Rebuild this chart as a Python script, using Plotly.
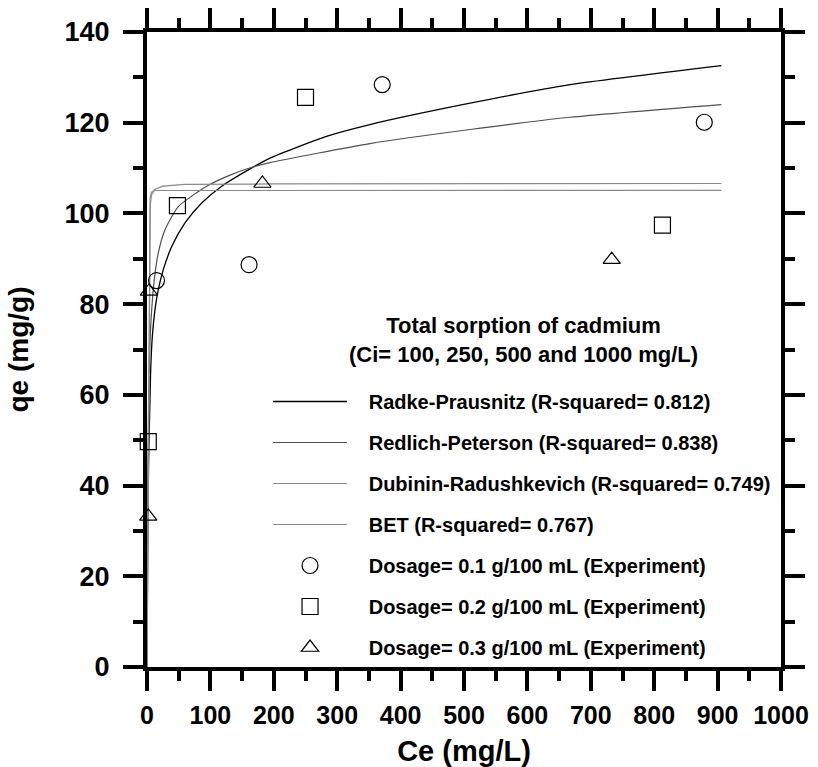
import plotly.graph_objects as go

# ---------------- data ----------------
# Experimental points (Ce mg/L, qe mg/g)
ce_d01 = [15, 161, 371, 879]
qe_d01 = [85.2, 88.7, 128.4, 120.1]
ce_d02 = [2, 48, 250, 813]
qe_d02 = [49.7, 101.7, 125.6, 97.4]
ce_d03 = [2, 3, 182, 733]
qe_d03 = [33.2, 82.8, 106.6, 89.8]

# Model curves
ce_rp = [0, 1, 2.5, 4.7, 5.8, 8.4, 12.6, 17.8, 25.7, 39, 59.9, 86.3, 117.8, 159.8, 194, 283, 351.7, 509.5, 667.2, 906]
qe_rp = [0, 25, 45, 58.9, 65.5, 72.9, 78.8, 83.2, 87.6, 92.7, 97.9, 102.3, 106.0, 109.6, 112.2, 117.0, 119.6, 124.3, 128.4, 132.6]
ce_rdp = [0, 1, 2, 3.2, 4.7, 7.4, 11.5, 17.8, 28.4, 49.4, 94.2, 130, 157, 194, 351.7, 509.5, 667.2, 906]
qe_rdp = [0, 35, 52, 64, 71.5, 78.8, 85.4, 91.3, 96.4, 101.5, 106.0, 108.4, 109.8, 111.2, 115.4, 118.5, 121.2, 124.0]
ce_dr = [0, 2, 3, 3.8, 5, 7, 12, 25, 60, 200, 906]
qe_dr = [0, 40, 75, 95, 101.5, 104, 105.3, 106, 106.4, 106.5, 106.6]
ce_bet = [0, 2, 3, 3.8, 5, 7, 12, 906]
qe_bet = [0, 45, 80, 98, 103.5, 104.7, 105.05, 105.1]

names = [
    "Radke-Prausnitz (R-squared= 0.812)",
    "Redlich-Peterson (R-squared= 0.838)",
    "Dubinin-Radushkevich (R-squared= 0.749)",
    "BET (R-squared= 0.767)",
    "Dosage= 0.1 g/100 mL (Experiment)",
    "Dosage= 0.2 g/100 mL (Experiment)",
    "Dosage= 0.3 g/100 mL (Experiment)",
]
legend_title = "Total sorption of cadmium<br>(Ci= 100, 250, 500 and 1000 mg/L)"

x_ticks = [0, 100, 200, 300, 400, 500, 600, 700, 800, 900, 1000]
y_ticks = [0, 20, 40, 60, 80, 100, 120, 140]

FONT = "Liberation Sans, Arial, sans-serif"
PAD = "\u00a0\u00a0\u00a0"

fig = go.Figure()

line_specs = [
    (ce_rp, qe_rp, "#000000", 1.3, "spline"),
    (ce_rdp, qe_rdp, "#505050", 1.2, "spline"),
    (ce_dr, qe_dr, "#8a8a8a", 1.2, "linear"),
    (ce_bet, qe_bet, "#8a8a8a", 1.2, "linear"),
]
for i, (xs, ys, col, w, shp) in enumerate(line_specs):
    fig.add_trace(go.Scatter(
        x=xs, y=ys, mode="lines", name=PAD + names[i], legendgroup=str(i),
        line=dict(color=col, width=w, shape=shp, smoothing=0.6),
    ))

pt_specs = [
    (ce_d01, qe_d01, "circle-open", 16),
    (ce_d02, qe_d02, "square-open", 16),
    (ce_d03, qe_d03, "triangle-up-open", 15),
]
for j, (xs, ys, sym, sz) in enumerate(pt_specs):
    fig.add_trace(go.Scatter(
        x=xs, y=ys, mode="markers", name=PAD + names[4 + j], legendgroup=str(4 + j),
        marker=dict(symbol=sym, size=sz, color="#000000", line=dict(color="#000000", width=1.2)),
        cliponaxis=False,
    ))

axis_common = dict(
    showline=True, linecolor="black", linewidth=4, mirror="allticks",
    ticks="outside", ticklen=20, tickwidth=4, tickcolor="black",
    showgrid=False, zeroline=False, automargin=False,
    minor=dict(ticks="outside", ticklen=10, tickwidth=4, tickcolor="black", showgrid=False),
)

fig.update_xaxes(
    range=[0, 1000], tickvals=x_ticks, ticktext=[str(v) for v in x_ticks],
    minor_dtick=50,
    tickfont=dict(family=FONT, size=25, color="black", weight="bold"),
    title=dict(text="Ce (mg/L)", font=dict(family=FONT, size=29, color="black", weight="bold"), standoff=16),
    ticklabelstandoff=3,
    **axis_common,
)
fig.update_yaxes(
    range=[0, 140], tickvals=y_ticks, ticktext=[str(v) for v in y_ticks],
    minor_dtick=10,
    tickfont=dict(family=FONT, size=27, color="black", weight="bold"),
    title=dict(text="qe (mg/g)", font=dict(family=FONT, size=28, color="black", weight="bold"), standoff=29),
    ticklabelstandoff=8,
    **axis_common,
)

fig.add_annotation(
    text=legend_title, xref="paper", yref="paper",
    x=0.5946, y=0.5157, xanchor="center", yanchor="middle",
    align="center", showarrow=False,
    font=dict(family=FONT, size=22, color="black", weight="bold"),
)

fig.update_layout(
    width=818, height=767,
    margin=dict(l=147, r=37, t=32, b=100),
    paper_bgcolor="white", plot_bgcolor="white",
    font=dict(family=FONT, color="black"),
    legend=dict(
        x=0.1909, y=0.4488, xanchor="left", yanchor="top",
        bgcolor="rgba(0,0,0,0)", borderwidth=0,
        itemwidth=74, tracegroupgap=12,
        font=dict(family=FONT, size=20, color="black", weight="bold"),
    ),
)

fig.write_html("out.html")
